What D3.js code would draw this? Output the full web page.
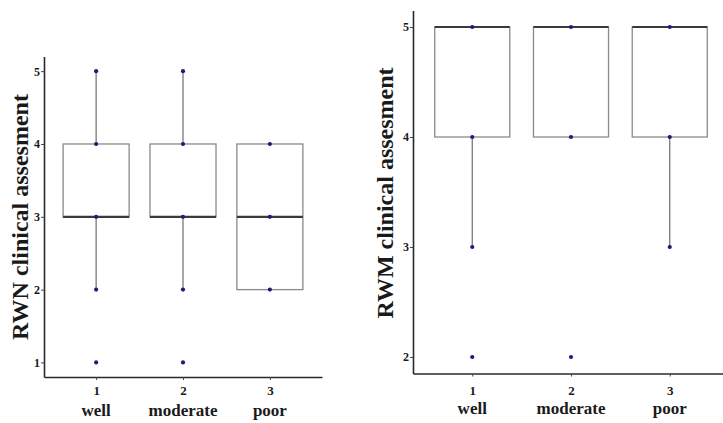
<!DOCTYPE html>
<html>
<head>
<meta charset="utf-8">
<script src="https://cdn.jsdelivr.net/npm/d3@7"></script>
<style>
  html, body { margin: 0; padding: 0; background: #fff; }
  svg { display: block; }
  text { font-family: "Liberation Serif", "Times New Roman", serif; font-weight: bold; fill: #1a1a1a; }
</style>
</head>
<body>
<svg id="chart" width="723" height="423"></svg>
<script>
// Grade groups
const categories = ["well", "moderate", "poor"];
const categoryCodes = ["1", "2", "3"];

// RWN clinical assessment: box statistics per group
const rwnLowerWhisker = [2, 2, 3];
const rwnQ1 = [3, 3, 2];
const rwnMedian = [3, 3, 3];
const rwnQ3 = [4, 4, 4];
const rwnUpperWhisker = [5, 5, 4];
const rwnPoints = [[1, 2, 3, 4, 5], [1, 2, 3, 4, 5], [2, 3, 4]];
const rwnTicks = [1, 2, 3, 4, 5];

// RWM clinical assessment: box statistics per group
const rwmLowerWhisker = [3, 4, 3];
const rwmQ1 = [4, 4, 4];
const rwmMedian = [5, 5, 5];
const rwmQ3 = [5, 5, 5];
const rwmUpperWhisker = [5, 5, 5];
const rwmPoints = [[2, 3, 4, 5], [2, 4, 5], [3, 4, 5]];
const rwmTicks = [2, 3, 4, 5];

const svg = d3.select("#chart");

function drawPanel(opts) {
  const g = svg.append("g");
  const x = d3.scaleLinear().domain([0.4, 3.6]).range(opts.xRange);
  const y = d3.scaleLinear().domain(opts.yDomain).range(opts.yRange);
  const unit = x(2) - x(1);
  const boxW = 0.76 * unit;

  categories.forEach((c, i) => {
    const cx = x(i + 1);
    // whiskers
    if (opts.upper[i] > opts.q3[i]) {
      g.append("line").attr("x1", cx).attr("x2", cx)
        .attr("y1", y(opts.q3[i])).attr("y2", y(opts.upper[i]))
        .attr("stroke", "#6e6e6e").attr("stroke-width", 1.2);
    }
    if (opts.lower[i] < opts.q1[i]) {
      g.append("line").attr("x1", cx).attr("x2", cx)
        .attr("y1", y(opts.q1[i])).attr("y2", y(opts.lower[i]))
        .attr("stroke", "#6e6e6e").attr("stroke-width", 1.2);
    }
    // box
    g.append("rect")
      .attr("x", cx - boxW / 2).attr("width", boxW)
      .attr("y", y(opts.q3[i])).attr("height", y(opts.q1[i]) - y(opts.q3[i]))
      .attr("fill", "#fff").attr("stroke", "#8a8a8a").attr("stroke-width", 1.3);
    // median
    g.append("line")
      .attr("x1", cx - boxW / 2).attr("x2", cx + boxW / 2)
      .attr("y1", y(opts.median[i])).attr("y2", y(opts.median[i]))
      .attr("stroke", "#3a3a3a").attr("stroke-width", 2.2);
    // observations
    g.selectAll(null).data(opts.points[i]).enter().append("circle")
      .attr("cx", cx).attr("cy", d => y(d)).attr("r", 2.1)
      .attr("fill", "#1c1c7a");
  });

  // y axis
  const yAxis = g.append("g").attr("transform", `translate(${opts.xRange[0]},0)`)
    .call(d3.axisLeft(y).tickValues(opts.ticks).tickFormat(d3.format("d")).tickSize(3).tickPadding(1).tickSizeOuter(0));
  yAxis.select(".domain").attr("stroke", "#2a2a2a").attr("stroke-width", 1.6);
  yAxis.selectAll(".tick line").attr("stroke", "#444");
  yAxis.selectAll(".tick text").style("font-size", "12px").attr("fill", "#333");

  // x axis
  const xAxis = g.append("g").attr("transform", `translate(0,${opts.yRange[0]})`)
    .call(d3.axisBottom(x).tickValues([1, 2, 3]).tickFormat((d, i) => categoryCodes[i]).tickSize(3).tickPadding(opts.tickPad).tickSizeOuter(0));
  xAxis.select(".domain").attr("stroke", "#2a2a2a").attr("stroke-width", 1.6);
  xAxis.selectAll(".tick line").attr("stroke", "#444");
  xAxis.selectAll(".tick text").style("font-size", "13px").attr("fill", "#333");

  // category names under the codes
  categories.forEach((c, i) => {
    g.append("text").attr("x", x(i + 1)).attr("y", opts.yRange[0] + opts.nameOffset)
      .attr("text-anchor", "middle").style("font-size", "17px").text(c);
  });

  // axis title
  g.append("text")
    .attr("transform", `translate(${opts.titleX},${opts.titleY}) rotate(-90)`)
    .attr("text-anchor", "middle")
    .style("font-size", "24px")
    .text(opts.title);
}

drawPanel({
  xRange: [44, 322], yDomain: [0.8, 5.2], yRange: [377, 56.6],
  lower: rwnLowerWhisker, q1: rwnQ1, median: rwnMedian, q3: rwnQ3, upper: rwnUpperWhisker,
  points: rwnPoints, ticks: rwnTicks, tickPad: 6, nameOffset: 39,
  title: "RWN clinical assesment", titleX: 28, titleY: 217
});

drawPanel({
  xRange: [413, 729], yDomain: [1.85, 5.15], yRange: [373.5, 10.5],
  lower: rwmLowerWhisker, q1: rwmQ1, median: rwmMedian, q3: rwmQ3, upper: rwmUpperWhisker,
  points: rwmPoints, ticks: rwmTicks, tickPad: 9, nameOffset: 40,
  title: "RWM clinical assesment", titleX: 393, titleY: 193
});
</script>
</body>
</html>
